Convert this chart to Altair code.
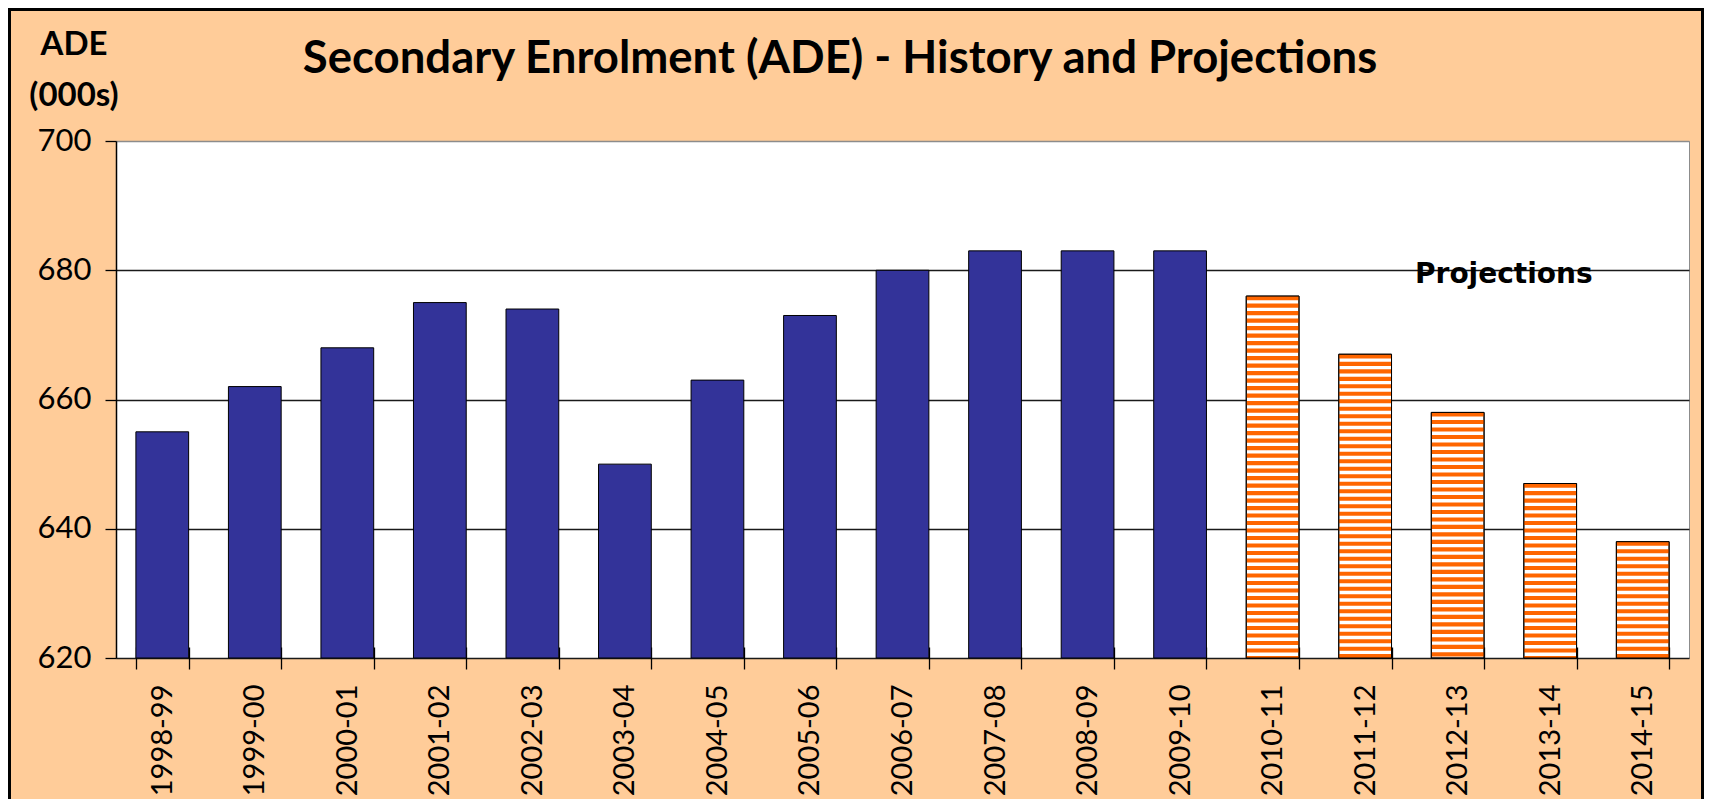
import altair as alt
import pandas as pd

# ---- data ----
YEARS = ["1998-99", "1999-00", "2000-01", "2001-02", "2002-03", "2003-04",
         "2004-05", "2005-06", "2006-07", "2007-08", "2008-09", "2009-10",
         "2010-11", "2011-12", "2012-13", "2013-14", "2014-15"]
VALUES = [655, 662, 668, 675, 674, 650, 663, 673, 680, 683, 683, 683,
          676, 667, 658, 647, 638]
KINDS = ["History"] * 12 + ["Projection"] * 5
Y_TICKS = [620, 640, 660, 680, 700]
Y_MIN, Y_MAX = 620, 700

TITLE = "Secondary Enrolment (ADE) - History and Projections"
Y_TITLE = "ADE\n(000s)"
NOTE = "Projections"

BLUE = "#333399"
ORANGE = "#FF6600"
PEACH = "#FFCC99"

df = pd.DataFrame({"year": YEARS, "value": VALUES, "type": KINDS})

# horizontal-stripe fill pattern for the projection bars
STRIPE_PERIOD = 1.16
STRIPE_FRAC = 0.55
rows = []
for yr, v, k in zip(YEARS, VALUES, KINDS):
    if k != "Projection":
        continue
    i = 0
    while True:
        hi = v - i * STRIPE_PERIOD
        lo = max(hi - STRIPE_PERIOD * STRIPE_FRAC, Y_MIN)
        if hi <= Y_MIN:
            break
        rows.append({"year": yr, "value": lo, "value_hi": hi})
        i += 1
stripes_df = pd.DataFrame(rows)

W, H = 1573, 517
PAD = {"left": 108, "top": 133, "right": 15, "bottom": 141}

x_enc = alt.X(
    "year:N",
    scale=alt.Scale(domain=YEARS, paddingInner=0.43, paddingOuter=0.215),
    axis=alt.Axis(
        title=None, labelAngle=270, labelFont="Lato", labelFontSize=29,
        labelColor="black", domain=False, offset=-11, tickSize=22,
        tickBand="extent", tickColor="black", tickWidth=1.3,
        labelPadding=15, grid=False, labelLimit=300,
    ),
)
y_enc = alt.Y(
    "value:Q",
    scale=alt.Scale(domain=[Y_MIN, Y_MAX], zero=False, nice=False),
    axis=alt.Axis(
        title=None, values=Y_TICKS, labelFont="Lato", labelFontSize=31,
        labelColor="black", domainColor="black", domainWidth=1.5,
        tickColor="black", tickSize=11, tickWidth=1.3, labelPadding=14,
        grid=True,
        gridColor={"condition": {"test": "datum.value === 700", "value": "#8c8c8c"},
                   "value": "#1a1a1a"},
        gridWidth=1.3,
    ),
)

bars = alt.Chart(df).mark_bar(stroke="black", strokeWidth=1).encode(
    x=x_enc,
    y=y_enc,
    y2=alt.datum(Y_MIN),
    color=alt.Color("type:N", scale=alt.Scale(domain=["History", "Projection"],
                                              range=[BLUE, "white"]), legend=None),
)

stripes = alt.Chart(stripes_df).mark_bar(color=ORANGE, strokeWidth=0).encode(
    x=x_enc, y=y_enc, y2="value_hi:Q",
)

outlines = alt.Chart(df).transform_filter(
    alt.datum.type == "Projection"
).mark_bar(fillOpacity=0, stroke="black", strokeWidth=1).encode(
    x=x_enc, y=y_enc, y2=alt.datum(Y_MIN),
)

note = alt.Chart(pd.DataFrame({"t": [NOTE]})).mark_text(
    font="DejaVu Sans", fontWeight="bold", fontSize=28, color="black",
    align="center", baseline="alphabetic", dy=13, dx=-20,
).encode(
    x=alt.X(datum="2013-14", bandPosition=0),
    y=alt.datum(680),
    text="t:N",
)

title = alt.Chart(pd.DataFrame({"t": [TITLE]})).mark_text(
    font="Lato", fontWeight="bold", fontSize=45.5, color="black",
    align="center", baseline="alphabetic",
).encode(x=alt.value(724), y=alt.value(-68), text="t:N")

ytitle = alt.Chart(pd.DataFrame({"t": [Y_TITLE]})).mark_text(
    font="Lato", fontWeight="bold", fontSize=33, color="black",
    align="center", baseline="alphabetic", lineBreak="\n", lineHeight=51,
).encode(x=alt.value(-42), y=alt.value(-86), text="t:N")

frame = alt.Chart(pd.DataFrame({"a": [0]})).mark_rect(
    fillOpacity=0, stroke="black", strokeWidth=3,
).encode(
    x=alt.value(-106.5), x2=alt.value(W + PAD["right"] - 1.5),
    y=alt.value(-131.5), y2=alt.value(H + PAD["bottom"] + 20),
)

chart = alt.layer(bars, stripes, outlines, note, title, ytitle, frame).properties(
    width=W, height=H,
    autosize=alt.AutoSizeParams(type="none"),
    padding=PAD,
    background=PEACH,
).configure_view(fill="white", stroke="#8c8c8c", strokeWidth=1)

chart.save("out.html", embed_options={"renderer": "svg", "actions": False})
